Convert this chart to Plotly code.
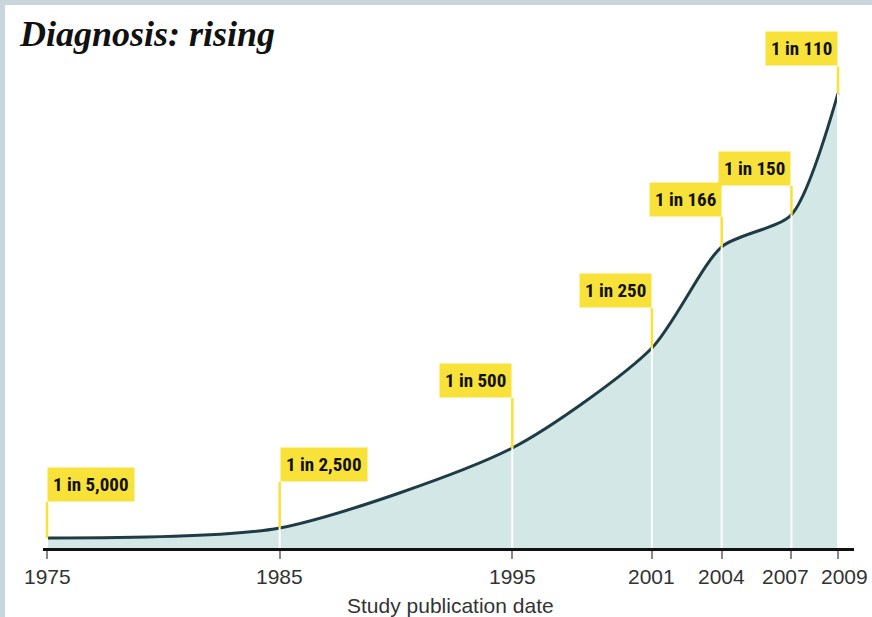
import plotly.graph_objects as go

# Study publication years and reported prevalence ("1 in N")
years = [1975, 1985, 1995, 2001, 2004, 2007, 2009]
one_in = [5000, 2500, 500, 250, 166, 150, 110]
labels = ["1 in 5,000", "1 in 2,500", "1 in 500", "1 in 250", "1 in 166", "1 in 150", "1 in 110"]
tick_years = [1975, 1985, 1995, 2001, 2004, 2007, 2009]
tick_text = ["1975", "1985", "1995", "2001", "2004", "2007", "2009"]

# cases per 10,000
per_10k = [10000 / n for n in one_in]

# label placement: side of the flag pole and height of the pole (px)
anchors = ["left", "left", "right", "right", "right", "right", "right"]
pole_px = [36, 46, 50, 40, 30, 29, 27]
# small horizontal nudges so the crowded year labels don't collide
tick_nudge = [0, 0, 0, 0, 0, -6, 6]

W, H = 872, 617
ML, MR, MT, MB = 43, 18, 20, 69
plot_w = W - ML - MR
plot_h = H - MT - MB
px_per_unit = 5.0
y_max = plot_h / px_per_unit

YELLOW = "#f8e23a"
LINE = "#1f3c45"
FILL = "#d4e7e7"
BORDER = "#c9d5dc"
LABEL_FONT = "Roboto Condensed, Liberation Sans Narrow, Roboto, sans-serif"
AXIS_FONT = "Liberation Sans, Arial, sans-serif"


def paper_x(px):
    return (px - ML) / plot_w


def paper_y(py):
    return (H - MB - py) / plot_h


fig = go.Figure()
fig.add_trace(go.Scatter(
    x=years, y=per_10k, mode="lines",
    line=dict(color=LINE, width=3, shape="spline", smoothing=0.7),
    fill="tozeroy", fillcolor=FILL, hoverinfo="skip",
))

shapes = []
annotations = []
for yr, v, lab, anc, pole in zip(years, per_10k, labels, anchors, pole_px):
    # white guide from baseline up to the curve
    shapes.append(dict(type="line", xref="x", yref="y", x0=yr, x1=yr, y0=0, y1=v,
                       line=dict(color="white", width=2), layer="above"))
    # yellow flag pole from the curve up to the label
    shapes.append(dict(type="line", xref="x", yref="y", x0=yr, x1=yr, y0=v,
                       y1=v + pole / px_per_unit,
                       line=dict(color=YELLOW, width=2.5), layer="above"))
    annotations.append(dict(
        x=yr, y=v, xref="x", yref="y", text=lab, showarrow=False,
        xanchor=anc, yanchor="bottom", yshift=pole,
        bgcolor=YELLOW, borderpad=5,
        font=dict(family=LABEL_FONT, size=19, color="#111111", weight="bold"),
    ))

# year labels under the axis
for yr, txt, dx in zip(tick_years, tick_text, tick_nudge):
    annotations.append(dict(
        x=yr, y=0, xref="x", yref="y", text=txt, showarrow=False,
        xanchor="center", yanchor="middle", yshift=-28, xshift=dx,
        font=dict(family=AXIS_FONT, size=21, color="#333333"),
    ))

annotations.append(dict(
    x=0.5 * (paper_x(348) + paper_x(553)), y=paper_y(605), xref="paper", yref="paper",
    text="Study publication date", showarrow=False,
    xanchor="center", yanchor="middle",
    font=dict(family=AXIS_FONT, size=21, color="#333333"),
))

# frame stripes along the top and left edges
shapes.append(dict(type="rect", xref="paper", yref="paper",
                   x0=paper_x(0), x1=paper_x(W), y0=paper_y(5), y1=paper_y(0),
                   fillcolor=BORDER, line=dict(width=0), layer="below"))
shapes.append(dict(type="rect", xref="paper", yref="paper",
                   x0=paper_x(0), x1=paper_x(5), y0=paper_y(H), y1=paper_y(0),
                   fillcolor=BORDER, line=dict(width=0), layer="below"))

x0 = 1975 - 4 / 23.265
x1 = 2009 + 16 / 23.265

fig.update_layout(
    width=W, height=H,
    margin=dict(l=ML, r=MR, t=MT, b=MB),
    paper_bgcolor="white", plot_bgcolor="white",
    showlegend=False,
    shapes=shapes, annotations=annotations,
    title=dict(text="<b><i>Diagnosis: rising</i></b>", x=20 / W, xanchor="left",
               xref="container", y=1 - 33 / H, yanchor="middle", yref="container",
               font=dict(family="Liberation Serif, serif", size=36, color="#111111")),
    xaxis=dict(range=[x0, x1], tickmode="array", tickvals=tick_years,
               showticklabels=False,
               showgrid=False, zeroline=False,
               showline=True, linecolor="#111111", linewidth=3,
               ticks="outside", ticklen=8, tickwidth=1.5, tickcolor="#888888"),
    yaxis=dict(range=[0, y_max], visible=False, fixedrange=True),
)

fig.write_html("out.html")
